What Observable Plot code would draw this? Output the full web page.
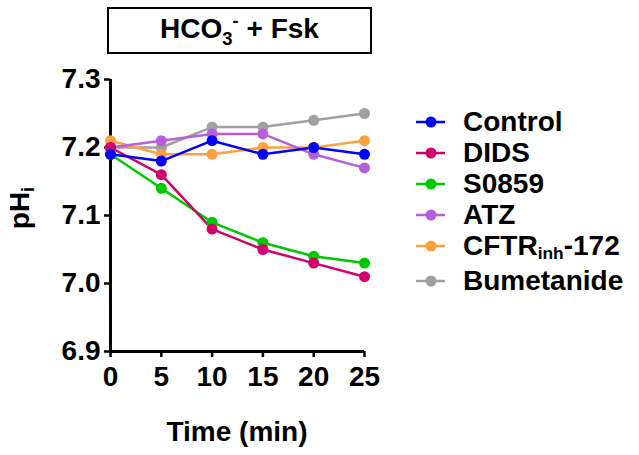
<!DOCTYPE html>
<html>
<head>
<meta charset="utf-8">
<script src="https://cdn.jsdelivr.net/npm/d3@7"></script>
<script src="https://cdn.jsdelivr.net/npm/@observablehq/plot@0.6"></script>
<style>
  html, body { margin: 0; padding: 0; background: #fff; }
  #wrap { position: relative; width: 639px; height: 455px; font-family: "Liberation Sans", Arial, sans-serif; font-weight: bold; color: #000; }
  #title { position: absolute; left: 107px; top: 7px; width: 265px; height: 47px; box-sizing: border-box; border: 2px solid #000; display: flex; align-items: center; justify-content: center; font-size: 28px; }
  #title span { display: inline-block; line-height: 30px; margin-top: -4px; }
  #title sub { font-size: 0.66em; vertical-align: -0.4em; line-height: 0; }
  #title sup { font-size: 0.66em; vertical-align: 0.6em; line-height: 0; }
  #ylab { position: absolute; left: -20px; top: 193px; width: 80px; height: 30px; line-height: 30px; text-align: center; font-size: 28px; transform: rotate(-90deg); }
  #ylab sub { font-size: 0.65em; vertical-align: -0.3em; line-height: 0; }
  #xlab { position: absolute; left: 110px; width: 254px; top: 418px; line-height: 28px; text-align: center; font-size: 28px; }
  #legend { position: absolute; left: 416px; top: 106px; }
  .row { display: flex; align-items: center; height: 31px; font-size: 28px; white-space: nowrap; }
  .row:last-child { margin-top: 4px; }
  .row svg { flex: none; margin-right: 17px; }
  .row span { line-height: 28px; }
  .row sub { font-size: 0.62em; vertical-align: -0.25em; line-height: 0; }
</style>
</head>
<body>
<div id="wrap">
  <div id="chart"></div>
  <div id="title"><span>HCO<sub>3</sub><sup>-</sup> + Fsk</span></div>
  <div id="ylab">pH<sub>i</sub></div>
  <div id="xlab">Time (min)</div>
  <div id="legend"></div>
</div>
<script>
const times = [0, 5, 10, 15, 20, 25];
const groups = ["Control", "DIDS", "S0859", "ATZ", "CFTR-172", "Bumetanide"];
const groupLabels = ["Control", "DIDS", "S0859", "ATZ", "CFTR<sub>inh</sub>-172", "Bumetanide"];
const colors = ["#0000ff", "#d2006b", "#00c800", "#b65fdc", "#ffa040", "#a0a0a0"];
const control    = [7.19, 7.18, 7.21, 7.19, 7.20, 7.19];
const dids       = [7.20, 7.16, 7.08, 7.05, 7.03, 7.01];
const s0859      = [7.19, 7.14, 7.09, 7.06, 7.04, 7.03];
const atz        = [7.20, 7.21, 7.22, 7.22, 7.19, 7.17];
const cftr       = [7.21, 7.19, 7.19, 7.20, 7.20, 7.21];
const bumetanide = [7.20, 7.20, 7.23, 7.23, 7.24, 7.25];
const series = [control, dids, s0859, atz, cftr, bumetanide];
const xTicks = [0, 5, 10, 15, 20, 25];
const yTicks = [6.9, 7.0, 7.1, 7.2, 7.3];

// draw later groups first so Control ends up on top
const data = [];
for (let g = groups.length - 1; g >= 0; g--) {
  times.forEach((t, i) => data.push({ group: groups[g], time: t, ph: series[g][i] }));
}

const chart = Plot.plot({
  width: 639,
  height: 455,
  marginLeft: 110,
  marginRight: 275,
  marginTop: 79,
  marginBottom: 104,
  x: { domain: [0, 25] },
  y: { domain: [6.9, 7.3] },
  color: { domain: groups, range: colors },
  style: { fontFamily: "'Liberation Sans', Arial, sans-serif", fontSize: "28px", fontWeight: "bold", color: "#000", background: "transparent", overflow: "visible" },
  marks: [
    Plot.axisY({ ticks: yTicks, tickFormat: d => d.toFixed(1), tickSize: 6, tickPadding: 4, label: null, strokeWidth: 2.5 }),
    Plot.axisX({ ticks: xTicks, tickFormat: d => String(d), tickSize: 6, tickPadding: 9, label: null, strokeWidth: 2.5 }),
    Plot.ruleX([0], { strokeWidth: 3 }),
    Plot.ruleY([6.9], { strokeWidth: 3 }),
    Plot.line(data, { x: "time", y: "ph", z: "group", stroke: "group", strokeWidth: 2.5 }),
    Plot.dot(data, { x: "time", y: "ph", fill: "group", r: 5.5 })
  ]
});
document.getElementById("chart").appendChild(chart);

const legend = document.getElementById("legend");
groups.forEach((g, i) => {
  const row = document.createElement("div");
  row.className = "row";
  row.innerHTML = `<svg width="30" height="14"><line x1="0" x2="29" y1="7" y2="7" stroke="${colors[i]}" stroke-width="2.5"/><circle cx="15" cy="7" r="5.5" fill="${colors[i]}"/></svg><span>${groupLabels[i]}</span>`;
  legend.appendChild(row);
});
</script>
</body>
</html>
